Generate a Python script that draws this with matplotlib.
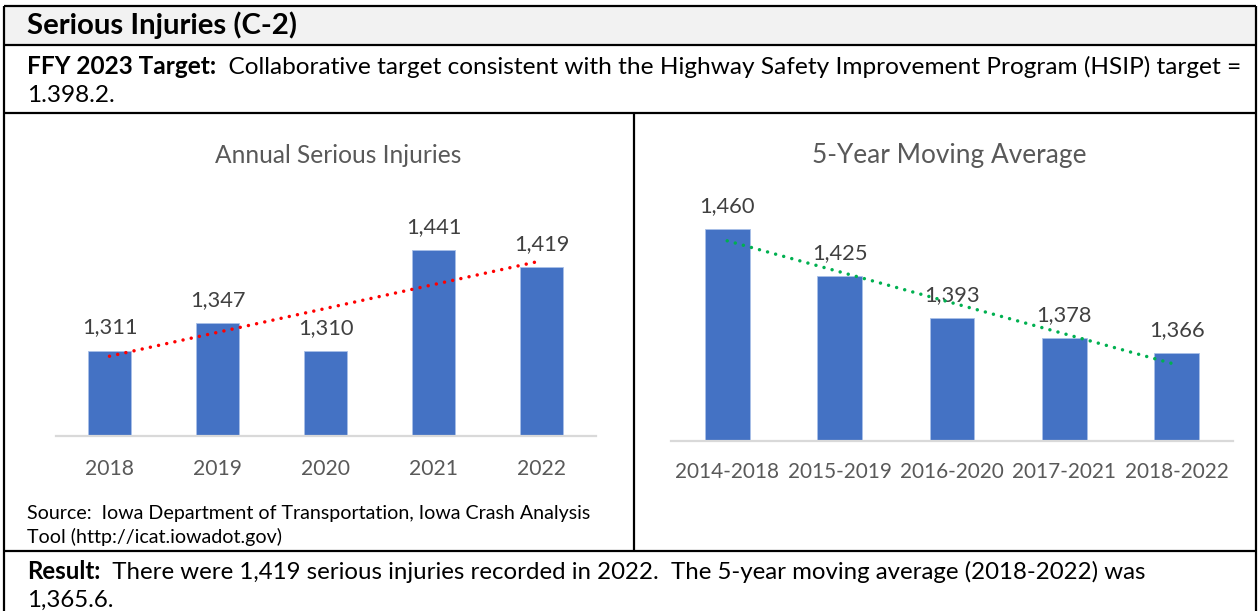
import matplotlib
matplotlib.use('Agg')
import matplotlib.pyplot as plt
import numpy as np

# data
years = ['2018', '2019', '2020', '2021', '2022']
annual = [1311, 1347, 1310, 1441, 1419]
periods = ['2014-2018', '2015-2019', '2016-2020', '2017-2021', '2018-2022']
moving_avg = [1460, 1425, 1393, 1378, 1366]

title = 'Serious Injuries (C-2)'
target_bold = 'FFY 2023 Target:'
target_text = '  Collaborative target consistent with the Highway Safety Improvement Program (HSIP) target ='
target_line2 = '1.398.2.'
source_lines = ['Source:  Iowa Department of Transportation, Iowa Crash Analysis',
                'Tool (http://icat.iowadot.gov)']
result_bold = 'Result:'
result_text = '  There were 1,419 serious injuries recorded in 2022.  The 5-year moving average (2018-2022) was'
result_line2 = '1,365.6.'

FONT = ['Lato', 'DejaVu Sans']
W, H = 1259, 611
fig = plt.figure(figsize=(W / 100, H / 100), dpi=100)
renderer = fig.canvas.get_renderer()


def fx(x):
    return x / W


def fy(y):
    return 1 - y / H


def text_w(s, fs, weight='normal'):
    t = fig.text(0, 0, s, fontsize=fs, fontweight=weight, family=FONT)
    w = t.get_window_extent(renderer).width
    t.remove()
    return w


def fit(s, target, weight='normal'):
    return 10 * target / text_w(s, 10, weight)


# sizes fitted to the widths seen in the picture
fs_title = fit(title, 272, 'bold')
fs_target = 10 * 1213 / (text_w(target_bold, 10, 'bold') + text_w(target_text, 10))
fs_result = 10 * 1120 / (text_w(result_bold, 10, 'bold') + text_w(result_text, 10))
fs_source = fit(source_lines[0], 563)
fs_label = fit('1,311', 56)

# table frame
line_kw = dict(color='black', lw=1.6, transform=fig.transFigure, solid_capstyle='butt')
L, R, T = 4, 1256, 6
fig.patches.append(plt.Rectangle((fx(L), fy(45)), fx(R) - fx(L), fy(T) - fy(45),
                                 transform=fig.transFigure, facecolor='#F2F2F2',
                                 edgecolor='none', zorder=0))
for y in [T, 45, 113, 551]:
    fig.add_artist(plt.Line2D([fx(L), fx(R)], [fy(y), fy(y)], **line_kw))
for x in [L, R]:
    fig.add_artist(plt.Line2D([fx(x), fx(x)], [fy(T), 0], **line_kw))
fig.add_artist(plt.Line2D([fx(634), fx(634)], [fy(113), fy(551)], **line_kw))


def two_part(x, y, bold, normal, fs):
    fig.text(fx(x), fy(y), bold, fontsize=fs, fontweight='bold', family=FONT,
             va='baseline', color='black')
    wb = text_w(bold, fs, 'bold')
    fig.text(fx(x + wb), fy(y), normal, fontsize=fs, family=FONT,
             va='baseline', color='black')


fig.text(fx(27), fy(34), title, fontsize=fs_title, fontweight='bold', family=FONT,
         va='baseline')
two_part(27, 74, target_bold, target_text, fs_target)
fig.text(fx(27), fy(102), target_line2, fontsize=fs_target, family=FONT, va='baseline')
fig.text(fx(27), fy(519), source_lines[0], fontsize=fs_source, family=FONT, va='baseline')
fig.text(fx(27), fy(543), source_lines[1], fontsize=fs_source, family=FONT, va='baseline')
two_part(27, 579, result_bold, result_text, fs_result)
fig.text(fx(27), fy(607), result_line2, fontsize=fs_result, family=FONT, va='baseline')


def bar_panel(x0, x1, ybot, ytop, cats, vals, ylim, trend_color, ctitle, tx, tw,
              cat_drop, cat_w):
    ax = fig.add_axes([fx(x0), fy(ybot), fx(x1) - fx(x0), fy(ytop) - fy(ybot)])
    ax.patch.set_alpha(0)
    xs = np.arange(len(cats))
    ax.bar(xs, vals, width=0.4, color='#4472C4', edgecolor='#A9C0E8', linewidth=0.6,
           zorder=2)
    ax.set_xlim(-0.5, len(cats) - 0.5)
    ax.set_ylim(*ylim)
    for s in ['top', 'left', 'right']:
        ax.spines[s].set_visible(False)
    ax.spines['bottom'].set_color('#D9D9D9')
    ax.spines['bottom'].set_linewidth(1.6)
    ax.set_xticks([])
    ax.set_yticks([])
    fs_cat = fit(cats[0], cat_w)
    for i, v in enumerate(vals):
        ax.annotate(f'{v:,}', xy=(i, v), xytext=(0, 17), textcoords='offset pixels',
                    ha='center', va='baseline', fontsize=fs_label, color='#404040',
                    family=FONT)
        ax.annotate(cats[i], xy=(i, 0), xycoords=('data', 'axes fraction'),
                    xytext=(0, -cat_drop), textcoords='offset pixels',
                    ha='center', va='baseline', fontsize=fs_cat, color='#595959',
                    family=FONT)
    k, b = np.polyfit(xs, vals, 1)
    ax.plot(xs, k * xs + b, color=trend_color, lw=2.5, linestyle=(0, (0.01, 2.4)),
            dash_capstyle='round', zorder=3)
    fig.text(fx(tx), fy(163), ctitle, ha='center', va='baseline',
             fontsize=fit(ctitle, tw), color='#595959', family=FONT)
    return ax


bar_panel(55.5, 595.5, 436, 205, years, annual, (1200, 1500), '#FF0000',
          'Annual Serious Injuries', 338, 246, 39, 49)
bar_panel(671, 1233, 440.5, 176.7, periods, moving_avg, (1300, 1500), '#00B050',
          '5-Year Moving Average', 949, 274, 38, 104)

fig.savefig('out.png', dpi=100)
